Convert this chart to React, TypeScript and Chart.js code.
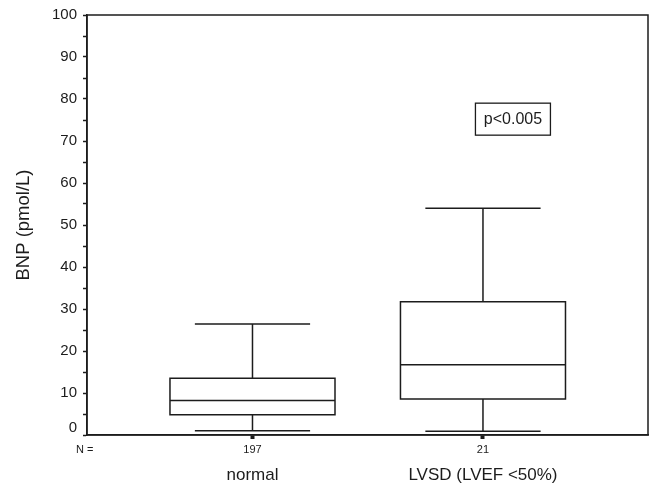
import React, { useEffect, useRef } from "react";
import { Chart, registerables } from "chart.js";

Chart.register(...registerables);

const categories = ["normal", "LVSD (LVEF <50%)"];
const nCounts = ["197", "21"];
const whiskerLow = [1.0, 0.9];
const q1 = [4.8, 8.6];
const median = [8.2, 16.7];
const q3 = [13.5, 31.7];
const whiskerHigh = [26.4, 54.0];
const yTicks = [0, 10, 20, 30, 40, 50, 60, 70, 80, 90, 100];
const pLabel = "p<0.005";
const pLabelPos = { x: 2.13, y: 75.2 };

const INK = "#1c1c1c";
const FONT = "'Liberation Sans', Arial, sans-serif";

const boxPlugin = {
  id: "boxPlugin",
  afterDraw(chart: any) {
    const { ctx, chartArea, scales } = chart;
    const xs = scales.x;
    const ys = scales.y;
    const unit = xs.getPixelForValue(2) - xs.getPixelForValue(1);
    const boxHalf = unit * 0.358;
    const capHalf = unit * 0.25;
    ctx.save();
    ctx.strokeStyle = INK;
    ctx.lineWidth = 1.5;
    // frame
    ctx.beginPath();
    ctx.moveTo(chartArea.left, chartArea.top);
    ctx.lineTo(chartArea.right, chartArea.top);
    ctx.lineTo(chartArea.right, chartArea.bottom);
    ctx.lineTo(chartArea.left, chartArea.bottom);
    ctx.closePath();
    ctx.stroke();

    categories.forEach((_, i) => {
      const cx = xs.getPixelForValue(i + 1);
      const yLo = ys.getPixelForValue(whiskerLow[i]);
      const yQ1 = ys.getPixelForValue(q1[i]);
      const yMed = ys.getPixelForValue(median[i]);
      const yQ3 = ys.getPixelForValue(q3[i]);
      const yHi = ys.getPixelForValue(whiskerHigh[i]);
      ctx.beginPath();
      ctx.rect(cx - boxHalf, yQ3, boxHalf * 2, yQ1 - yQ3);
      ctx.moveTo(cx - boxHalf, yMed);
      ctx.lineTo(cx + boxHalf, yMed);
      ctx.moveTo(cx, yQ3);
      ctx.lineTo(cx, yHi);
      ctx.moveTo(cx - capHalf, yHi);
      ctx.lineTo(cx + capHalf, yHi);
      ctx.moveTo(cx, yQ1);
      ctx.lineTo(cx, yLo);
      ctx.moveTo(cx - capHalf, yLo);
      ctx.lineTo(cx + capHalf, yLo);
      ctx.stroke();

      ctx.fillStyle = INK;
      ctx.font = `11px ${FONT}`;
      ctx.textAlign = "center";
      ctx.textBaseline = "middle";
      ctx.fillText(nCounts[i], cx, chartArea.bottom + 15);
    });

    ctx.fillStyle = INK;
    ctx.font = `11px ${FONT}`;
    ctx.textAlign = "left";
    ctx.textBaseline = "middle";
    ctx.fillText("N =", 76, chartArea.bottom + 15);

    // zero label, lifted above baseline as in original
    ctx.font = `15px ${FONT}`;
    ctx.textAlign = "right";
    ctx.fillText("0", chartArea.left - 10, ys.getPixelForValue(0) - 7);

    // p-value box
    const px = xs.getPixelForValue(pLabelPos.x);
    const py = ys.getPixelForValue(pLabelPos.y);
    ctx.font = `16px ${FONT}`;
    ctx.textAlign = "center";
    ctx.fillText(pLabel, px, py);
    ctx.lineWidth = 1.3;
    ctx.strokeRect(px - 37.5, py - 16, 75, 32);
    ctx.restore();
  },
};

export default function App() {
  const ref = useRef<HTMLCanvasElement>(null);
  useEffect(() => {
    document.body.style.margin = "0";
    const chart = new Chart(ref.current as HTMLCanvasElement, {
      type: "scatter",
      data: {
        datasets: [
          {
            data: median.map((m, i) => ({ x: i + 1, y: m })),
            pointRadius: 0,
            showLine: false,
          },
        ],
      },
      options: {
        animation: false,
        responsive: false,
        layout: { padding: { top: 15, right: 5, left: 0, bottom: 0 } },
        plugins: { legend: { display: false }, tooltip: { enabled: false } },
        scales: {
          x: {
            type: "linear",
            min: 0.282,
            max: 2.716,
            afterBuildTicks: (s: any) => {
              s.ticks = [{ value: 1 }, { value: 2 }];
            },
            afterFit: (s: any) => {
              s.height = 49;
            },
            grid: {
              drawOnChartArea: false,
              drawTicks: true,
              tickLength: 4,
              tickWidth: 4,
              tickColor: INK,
            },
            border: { display: true, color: INK, width: 1.5 },
            ticks: {
              autoSkip: false,
              maxRotation: 0,
              padding: 26,
              color: INK,
              font: { family: FONT, size: 17 },
              callback: (v: any) => categories[Math.round(v) - 1] ?? "",
            },
          },
          y: {
            min: 0,
            max: 100,
            afterBuildTicks: (s: any) => {
              const t: any[] = [];
              yTicks.forEach((v, i) => {
                t.push({ value: v });
                if (i < yTicks.length - 1) t.push({ value: v + 5 });
              });
              s.ticks = t;
            },
            afterFit: (s: any) => {
              s.width = 87;
            },
            grid: {
              drawOnChartArea: false,
              drawTicks: true,
              tickLength: 4,
              tickWidth: 1.5,
              tickColor: INK,
            },
            border: { display: true, color: INK, width: 1.5 },
            title: {
              display: true,
              text: "BNP (pmol/L)",
              color: INK,
              font: { family: FONT, size: 18.5 },
              padding: { top: 13, bottom: 0 },
            },
            ticks: {
              padding: 6,
              color: INK,
              font: { family: FONT, size: 15 },
              callback: (v: any) =>
                yTicks.includes(v) && v !== 0 ? String(v) : "",
            },
          },
        },
      },
      plugins: [boxPlugin],
    });
    return () => chart.destroy();
  }, []);
  return <canvas ref={ref} width={653} height={484} />;
}
